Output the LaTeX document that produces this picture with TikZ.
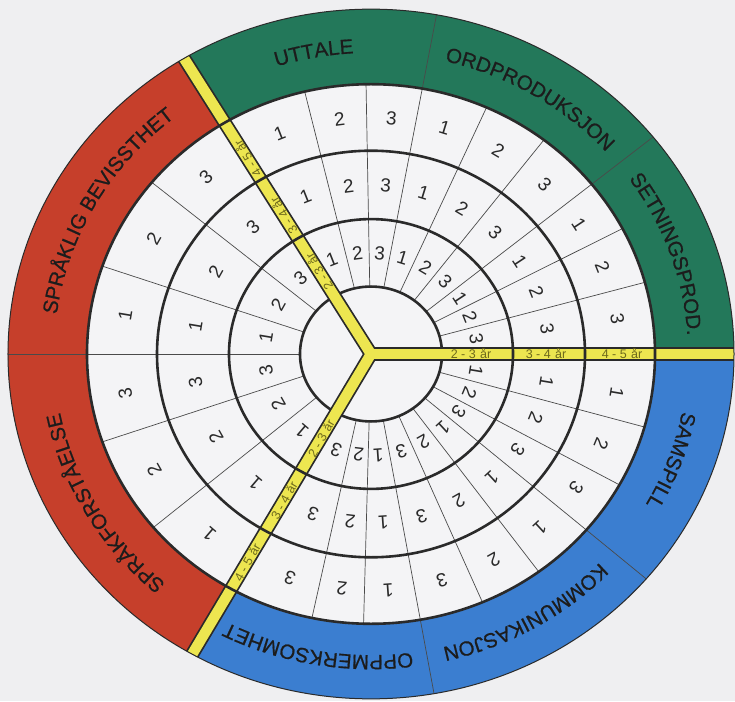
\documentclass[tikz,border=0pt]{standalone}
\usepackage{fontspec}
\setmainfont{Liberation Sans}
\newfontfamily\lblface[FakeBold=0.7]{Liberation Sans}
\usetikzlibrary{decorations.text}
\definecolor{bgc}{HTML}{EFEFF1}
\definecolor{cellc}{HTML}{F4F4F6}
\definecolor{grn}{HTML}{23785A}
\definecolor{redc}{HTML}{C63F2B}
\definecolor{blu}{HTML}{3B7ED0}
\definecolor{ylw}{HTML}{EDE650}
\definecolor{ink}{HTML}{2A2A2A}
\definecolor{lblink}{HTML}{1C1C1C}
\definecolor{olive}{HTML}{6E6A1C}
\newcommand\lblfont{\lblface\fontsize{20.5}{20.5}\selectfont}
\begin{document}
\begin{tikzpicture}[x=1pt,y=0.95pt,
  ringline/.style={draw=ink, line width=2.6pt},
  thinline/.style={draw=ink!85, line width=0.7pt},
  digit/.style={font=\fontsize{19}{19}\selectfont, text=ink, inner sep=0pt},
  agelbl/.style={font=\fontsize{12.5}{12.5}\selectfont, text=olive, inner sep=0pt},
  domlbl/.style={decorate, decoration={text along path, text={|\lblfont|#1}, text align=center, text color=lblink}}
]
\useasboundingbox (-371pt,-347pt) rectangle (364pt,354pt);
\fill[bgc] (-371pt,-347pt) rectangle (364pt,354pt);
% coloured sectors
\fill[grn] (0,0) -- (0:363) arc[start angle=0, end angle=121, radius=363] -- cycle;
\fill[redc] (0,0) -- (121:363) arc[start angle=121, end angle=240.5, radius=363] -- cycle;
\fill[blu] (0,0) -- (240.5:363) arc[start angle=240.5, end angle=360, radius=363] -- cycle;
% white disc
\fill[cellc] (0,0) circle[radius=284];
% column lines
\foreach \a in {103.5,91,66,52.5,27.7,15.4,140.5,161,199,220,-15.7,-29,-53.8,-66.9,-91.5,-102}
  \draw[thinline] (\a:71) -- (\a:284);
% domain lines
\foreach \a in {79.6,39,180,-40.7,-80}
  \draw[thinline] (\a:71) -- (\a:363);
\draw[ringline] (0,0) circle[radius=71];
% spokes
\begin{scope}
  \clip (0,0) circle[radius=363];
  \foreach \a in {0,121,240.5} \draw[ink, line width=14pt, line cap=round] (0,0) -- (\a:380);
  \foreach \a in {0,121,240.5} \draw[ylw, line width=10.5pt, line cap=round] (0,0) -- (\a:380);
\end{scope}
% rings over spokes
\draw[ringline] (0,0) circle[radius=142];
\draw[ringline] (0,0) circle[radius=214];
\draw[ringline] (0,0) circle[radius=284];
\draw[ink, line width=1pt] (0,0) circle[radius=363];
% digits
\foreach \r [count=\ri] in {106.5,178,249} {
  \foreach \a/\d [count=\ci] in {111.5/1,97.25/2,85.3/3,72.8/1,59.25/2,45.75/3,33.35/1,21.55/2,8.45/3,
      131.5/3,150.75/2,170.5/1,189.5/3,209.5/2,229.5/1,
      -9.5/1,-22.35/2,-34.5/3,-47.25/1,-60.35/2,-73.45/3,-86/1,-96.75/2,-109/3}
    \node[digit, rotate=\a-90] (n\ri-\ci) at (\a:\r) {\d};
}
% age labels on spokes
\node[agelbl] (e1) at (0:100) {2 - 3\hspace{0.35em}år};
\node[agelbl] (e2) at (0:175) {3 - 4\hspace{0.35em}år};
\node[agelbl] (e3) at (0:251) {4 - 5\hspace{0.35em}år};
\node[agelbl, rotate=121] (u1) at (121:101) {2 - 3\hspace{0.35em}år};
\node[agelbl, rotate=121] (u2) at (121:170) {3 - 4\hspace{0.35em}år};
\node[agelbl, rotate=121] (u3) at (121:240) {4 - 5\hspace{0.35em}år};
\node[agelbl, rotate=60.5] (l1) at (240.5:102) {2 - 3\hspace{0.35em}år};
\node[agelbl, rotate=60.5] (l2) at (240.5:177) {3 - 4\hspace{0.35em}år};
\node[agelbl, rotate=60.5] (l3) at (240.5:252) {4 - 5\hspace{0.35em}år};
% domain labels
\path[domlbl=UTTALE] (121:317) arc[start angle=121, end angle=79.6, radius=317];
\path[domlbl=ORDPRODUKSJON] (79.6:317) arc[start angle=79.6, end angle=39, radius=317];
\path[domlbl=SETNINGSPROD.] (39:317) arc[start angle=39, end angle=0, radius=317];
\path[domlbl=SPRÅKLIG BEVISSTHET] (180:317) arc[start angle=180, end angle=121, radius=317];
\path[domlbl=SPRÅKFORSTÅELSE] (240.5:317) arc[start angle=240.5, end angle=180, radius=317];
\path[domlbl=SAMSPILL] (0:317) arc[start angle=0, end angle=-40.7, radius=317];
\path[domlbl=KOMMUNIKASJON] (-40.7:317) arc[start angle=-40.7, end angle=-80, radius=317];
\path[domlbl=OPPMERKSOMHET] (-80:317) arc[start angle=-80, end angle=-119.5, radius=317];
\end{tikzpicture}
\end{document}
